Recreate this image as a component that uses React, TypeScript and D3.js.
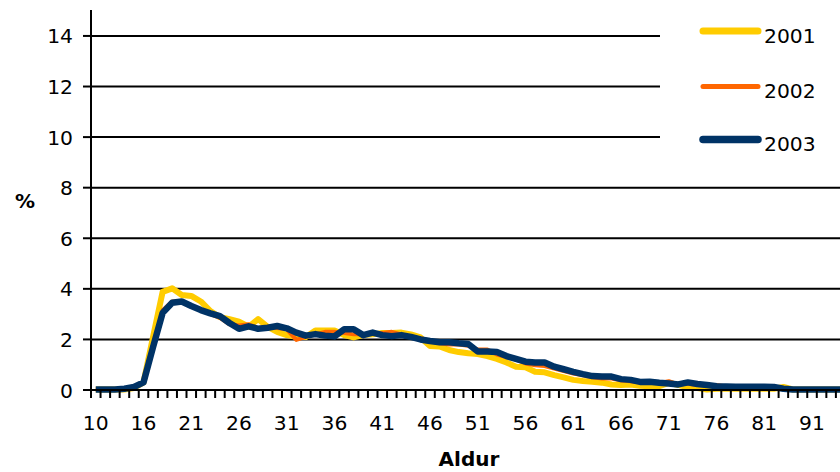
import React from "react";
import * as d3 from "d3";

const ages: string[] = [
  "10", "12", "13", "14", "15",
  ...d3.range(16, 86).map(String),
  "91", "92", "93", "94",
];

const s2001: number[] = [
  0.02, 0.02, 0.02, 0.02, 0.08, 0.3, 2.1, 3.88, 4.02, 3.76,
  3.72, 3.5, 3.12, 2.88, 2.8, 2.7, 2.5, 2.8, 2.5, 2.3,
  2.17, 2.1, 2.1, 2.35, 2.35, 2.35, 2.17, 2.08, 2.17, 2.2,
  2.25, 2.25, 2.27, 2.2, 2.08, 1.74, 1.72, 1.58, 1.5, 1.45,
  1.42, 1.34, 1.23, 1.09, 0.92, 0.9, 0.72, 0.7, 0.59, 0.5,
  0.4, 0.36, 0.33, 0.29, 0.22, 0.2, 0.22, 0.17, 0.15, 0.15,
  0.28, 0.2, 0.1, 0.08, 0.02, 0.05, 0.05, 0.05, 0.05, 0.05,
  0.05, 0.05, 0.12, 0.02, 0.02, 0.02, 0.02, 0.02, 0.02,
];

const s2002: number[] = [
  0.02, 0.02, 0.02, 0.03, 0.1, 0.3, 1.75, 3.15, 3.5, 3.5,
  3.35, 3.15, 3.0, 2.85, 2.6, 2.55, 2.6, 2.45, 2.5, 2.45,
  2.4, 1.98, 2.1, 2.2, 2.3, 2.3, 2.25, 2.2, 2.2, 2.25,
  2.25, 2.3, 2.2, 2.1, 2.05, 1.95, 1.85, 1.8, 1.8, 1.75,
  1.6, 1.6, 1.4, 1.3, 1.2, 1.05, 0.98, 0.95, 0.85, 0.75,
  0.65, 0.58, 0.5, 0.45, 0.45, 0.38, 0.35, 0.3, 0.3, 0.28,
  0.35, 0.22, 0.25, 0.2, 0.18, 0.2, 0.14, 0.12, 0.12, 0.12,
  0.12, 0.12, 0.06, 0.02, 0.02, 0.02, 0.02, 0.02, 0.02,
];

const s2003: number[] = [
  0.02, 0.02, 0.02, 0.05, 0.12, 0.3, 1.7, 3.05, 3.45, 3.5,
  3.32, 3.16, 3.03, 2.92, 2.65, 2.42, 2.52, 2.42, 2.46, 2.53,
  2.44, 2.27, 2.15, 2.21, 2.15, 2.12, 2.4, 2.4, 2.17, 2.27,
  2.17, 2.13, 2.17, 2.1, 2.0, 1.94, 1.89, 1.89, 1.85, 1.82,
  1.52, 1.52, 1.5, 1.34, 1.23, 1.12, 1.09, 1.09, 0.92, 0.82,
  0.72, 0.63, 0.55, 0.53, 0.53, 0.43, 0.4, 0.32, 0.33, 0.29,
  0.26, 0.22, 0.3, 0.24, 0.2, 0.15, 0.14, 0.13, 0.13, 0.13,
  0.13, 0.12, 0.05, 0.02, 0.02, 0.02, 0.02, 0.02, 0.02,
];

const seriesNames = ["2001", "2002", "2003"];
const seriesData = [s2001, s2002, s2003];
const seriesColors = ["#FFCC00", "#FF6600", "#003366"];
const seriesWidths = [6, 4, 6.5];

const yTicks = [0, 2, 4, 6, 8, 10, 12, 14];
const xLabelEvery = 5;

const FONT = "'DejaVu Sans', Verdana, sans-serif";

export default function App() {
  const W = 840;
  const H = 472;
  const left = 91;
  const band = 9.55;
  const x = d3
    .scaleBand<string>()
    .domain(ages)
    .range([left, left + band * ages.length])
    .paddingInner(0)
    .paddingOuter(0);
  const y = d3.scaleLinear().domain([0, 15]).range([390, 390 - 15 * 25.29]);
  const cx = (i: number) => (x(ages[i]) as number) + x.bandwidth() / 2;

  const line = d3
    .line<number>()
    .x((_, i) => cx(i))
    .y((d) => y(d));

  const boundaries = ages.map((a) => x(a) as number).concat([left + band * ages.length]);

  return (
    <svg
      width={W}
      height={H}
      style={{ position: "absolute", left: 0, top: 0, background: "#fff" }}
      fontFamily={FONT}
    >
      <rect x={0} y={0} width={W} height={H} fill="#fff" />
      {yTicks
        .filter((t) => t > 0)
        .map((t) => (
          <line key={"g" + t} x1={left} x2={W} y1={y(t)} y2={y(t)} stroke="#000" strokeWidth={2} />
        ))}
      {seriesData.map((d, k) => (
        <path
          key={"s" + k}
          d={line(d) as string}
          fill="none"
          stroke={seriesColors[k]}
          strokeWidth={seriesWidths[k]}
          strokeLinejoin="round"
        />
      ))}
      <line x1={left} x2={left} y1={10} y2={398} stroke="#000" strokeWidth={2} />
      {yTicks.map((t) => (
        <g key={"yt" + t}>
          <line x1={83} x2={left} y1={y(t)} y2={y(t)} stroke="#000" strokeWidth={2} />
          <text x={73} y={y(t) + 7.5} textAnchor="end" fontSize={20.3} fill="#000">
            {t}
          </text>
        </g>
      ))}
      <line x1={left} x2={W} y1={y(0)} y2={y(0)} stroke="#000" strokeWidth={2} />
      {boundaries.map((b, i) => (
        <line key={"xt" + i} x1={b} x2={b} y1={390} y2={398} stroke="#000" strokeWidth={2} />
      ))}
      {ages.map((a, i) =>
        i % xLabelEvery === 0 ? (
          <text key={"xl" + a} x={cx(i)} y={430} textAnchor="middle" fontSize={20.3} fill="#000">
            {a}
          </text>
        ) : null
      )}
      <text x={25} y={208} textAnchor="middle" fontSize={20} fontWeight="bold" fill="#000">
        %
      </text>
      <text x={469} y={466} textAnchor="middle" fontSize={20} fontWeight="bold" fill="#000">
        Aldur
      </text>
      <rect x={660} y={14} width={180} height={152} fill="#fff" />
      {seriesNames.map((n, k) => {
        const ly = [31, 86.5, 139.5][k];
        return (
          <g key={"lg" + n}>
            <line
              x1={703}
              x2={758}
              y1={ly}
              y2={ly}
              stroke={seriesColors[k]}
              strokeWidth={seriesWidths[k] + 1}
              strokeLinecap="round"
            />
            <text x={764} y={ly + 11.8} fontSize={20.3} fill="#000">
              {n}
            </text>
          </g>
        );
      })}
    </svg>
  );
}
